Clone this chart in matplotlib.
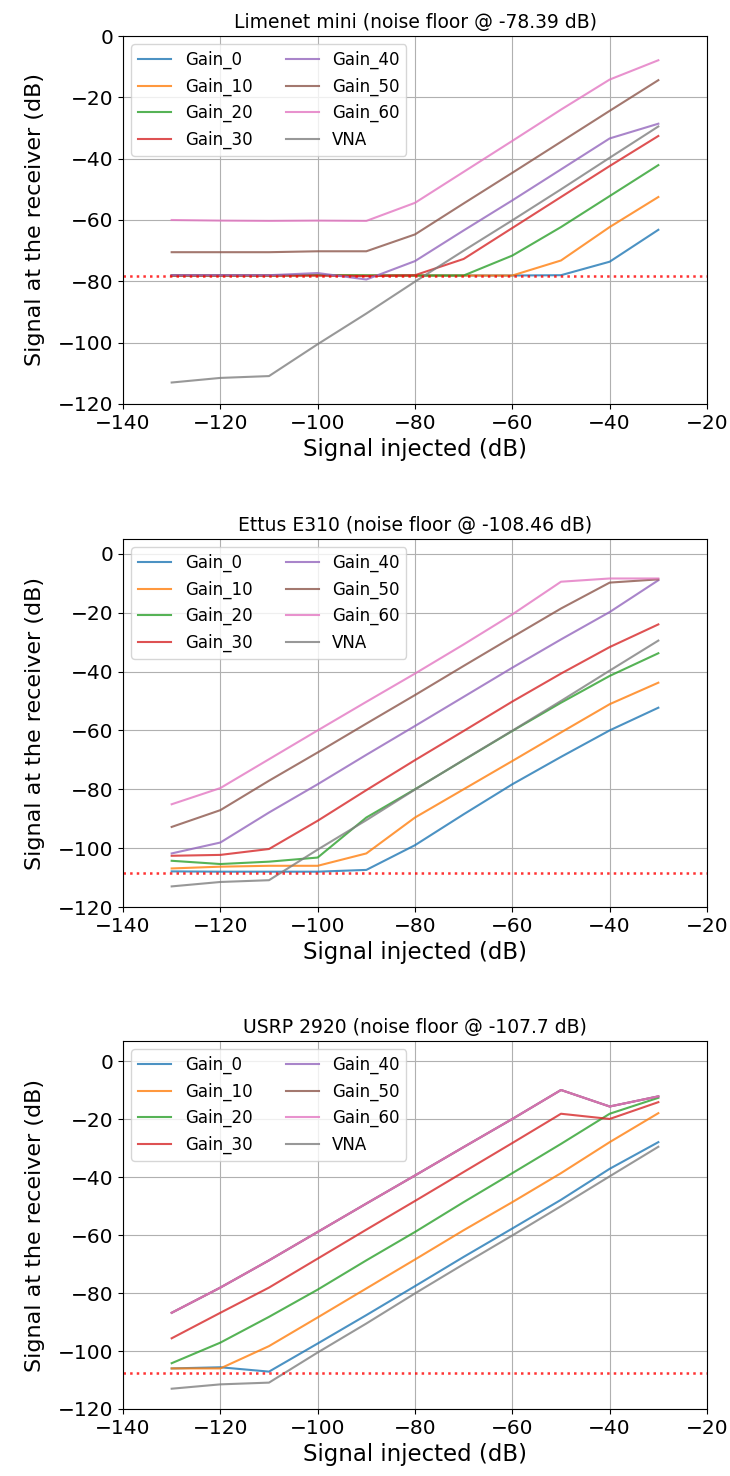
import matplotlib
matplotlib.use("Agg")
import matplotlib.pyplot as plt

x_injected = [-130, -120, -110, -100, -90, -80, -70, -60, -50, -40, -30]
series_names = ["Gain_0", "Gain_10", "Gain_20", "Gain_30", "Gain_40", "Gain_50", "Gain_60", "VNA"]
series_colors = ["tab:blue", "tab:orange", "tab:green", "tab:red", "tab:purple", "tab:brown", "tab:pink", "tab:gray"]

vna = [-113.0, -111.5, -110.9, -100.5, -90.5, -80.1, -70.0, -60.1, -50.0, -39.7, -29.5]

# Limenet mini
lime_titles = "Limenet mini (noise floor @ -78.39 dB)"
lime_nf = -78.39
lime_g0 = [-78.1, -78.1, -78.1, -78.0, -78.1, -78.1, -78.1, -78.1, -78.0, -73.6, -63.2]
lime_g10 = [-78.1, -78.1, -78.1, -78.0, -78.1, -78.1, -78.1, -78.1, -73.2, -62.3, -52.5]
lime_g20 = [-78.1, -78.1, -78.1, -78.0, -78.1, -78.1, -78.1, -71.6, -62.3, -52.2, -42.1]
lime_g30 = [-78.1, -78.1, -78.1, -78.1, -78.3, -78.0, -72.7, -62.6, -52.5, -42.4, -32.6]
lime_g40 = [-78.0, -78.0, -78.0, -77.3, -79.4, -73.4, -63.4, -53.6, -43.5, -33.4, -28.6]
lime_g50 = [-70.5, -70.5, -70.5, -70.2, -70.2, -64.7, -54.6, -44.6, -34.5, -24.4, -14.4]
lime_g60 = [-60.0, -60.2, -60.3, -60.2, -60.3, -54.4, -44.3, -34.2, -24.0, -14.2, -7.9]

# Ettus E310
e310_title = "Ettus E310 (noise floor @ -108.46 dB)"
e310_nf = -108.46
e310_g0 = [-107.9, -108.0, -108.0, -108.0, -107.4, -99.0, -88.5, -78.3, -69.0, -60.0, -52.3]
e310_g10 = [-106.9, -106.3, -106.0, -106.0, -101.8, -89.6, -80.0, -70.4, -60.7, -51.1, -43.8]
e310_g20 = [-104.3, -105.4, -104.6, -103.2, -89.6, -80.0, -70.1, -60.2, -50.6, -41.5, -33.8]
e310_g30 = [-102.6, -102.3, -100.3, -90.7, -80.3, -70.1, -60.2, -50.2, -40.7, -31.7, -24.0]
e310_g40 = [-101.8, -98.1, -87.9, -78.3, -68.3, -58.5, -48.6, -38.7, -29.1, -19.8, -9.0]
e310_g50 = [-92.8, -87.1, -77.1, -67.5, -57.7, -48.0, -38.1, -28.3, -18.6, -9.8, -8.7]
e310_g60 = [-85.1, -79.6, -69.8, -60.0, -50.3, -40.7, -30.8, -20.6, -9.5, -8.4, -8.4]

# USRP 2920
usrp_title = "USRP 2920 (noise floor @ -107.7 dB)"
usrp_nf = -107.7
usrp_g0 = [-106.0, -105.6, -107.1, -97.4, -87.6, -77.6, -67.5, -57.7, -47.8, -37.1, -27.9]
usrp_g10 = [-106.0, -106.0, -98.3, -88.4, -78.4, -68.4, -58.3, -48.6, -38.6, -27.9, -17.9]
usrp_g20 = [-104.2, -97.1, -88.2, -78.8, -68.7, -58.9, -48.6, -38.6, -28.5, -18.1, -12.6]
usrp_g30 = [-95.6, -86.8, -78.1, -68.1, -58.1, -48.2, -38.2, -28.2, -18.1, -19.9, -14.1]
usrp_g40 = [-86.8, -78.1, -68.7, -58.9, -49.1, -39.4, -29.6, -19.9, -9.9, -15.6, -12.1]
usrp_g50 = [-86.8, -78.1, -68.7, -58.9, -49.1, -39.4, -29.6, -19.9, -9.9, -15.6, -12.1]
usrp_g60 = [-86.8, -78.1, -68.7, -58.9, -49.1, -39.4, -29.6, -19.9, -9.9, -15.6, -12.1]

panels = [
    (lime_titles, lime_nf, [lime_g0, lime_g10, lime_g20, lime_g30, lime_g40, lime_g50, lime_g60, vna], (-120, 0)),
    (e310_title, e310_nf, [e310_g0, e310_g10, e310_g20, e310_g30, e310_g40, e310_g50, e310_g60, vna], (-120, 5)),
    (usrp_title, usrp_nf, [usrp_g0, usrp_g10, usrp_g20, usrp_g30, usrp_g40, usrp_g50, usrp_g60, vna], (-120, 7)),
]

fig = plt.figure(figsize=(7.30, 14.76), dpi=100)
bottoms = [0.7263, 0.3855, 0.0454]
for (title, nf, ys, ylim), b in zip(panels, bottoms):
    ax = fig.add_axes([0.1685, b, 0.80, 0.2493])
    for name, col, y in zip(series_names, series_colors, ys):
        ax.plot(x_injected, y, color=col, alpha=0.8, lw=1.5, label=name)
    ax.axhline(nf, color="red", ls=":", lw=1.8, alpha=0.8)
    ax.set_xlim(-140, -20)
    ax.set_ylim(*ylim)
    ax.set_xticks([-140, -120, -100, -80, -60, -40, -20])
    ax.set_yticks([-120, -100, -80, -60, -40, -20, 0])
    ax.tick_params(labelsize=14.5)
    ax.grid(True, color="#b0b0b0", lw=0.8)
    ax.set_title(title, fontsize=13.5)
    ax.set_xlabel("Signal injected (dB)", fontsize=16.5)
    ax.set_ylabel("Signal at the receiver (dB)", fontsize=16, labelpad=9)
    ax.legend(loc="upper left", ncol=2, fontsize=12)

fig.savefig("out.png", dpi=100)
